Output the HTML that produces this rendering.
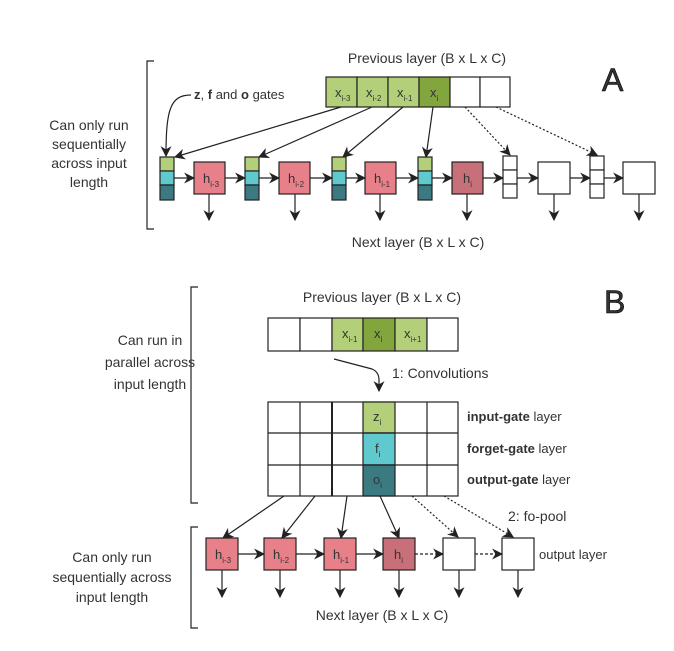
<!DOCTYPE html>
<html><head><meta charset="utf-8"><style>
html,body{margin:0;padding:0;background:#fff;}
svg{display:block;font-family:"Liberation Sans",sans-serif;}
text{fill:#333;}
</style></head><body>
<svg width="674" height="651" viewBox="0 0 674 651">
<defs>
<marker id="ah" viewBox="0 0 10 10" refX="9" refY="5" markerWidth="11" markerHeight="11" orient="auto-start-reverse" markerUnits="userSpaceOnUse"><path d="M0,0 L10,5 L0,10 L3,5 z" fill="#222"/></marker>
</defs>
<g stroke="#222" stroke-width="1.2" fill="none">
<path d="M154,61 H147 V229 H154"/>
<path d="M198,287 H191 V503 H198"/>
<path d="M198,527 H191 V628 H198"/>
</g>

<g>
<text x="427" y="63" font-size="14" text-anchor="middle">Previous layer (B x L x C)</text>
<text x="602" y="91" font-size="32" fill="#000" stroke="#000" stroke-width="0.6">A</text>
<g stroke="#222" stroke-width="1.2">
<rect x="326" y="77" width="31" height="30" fill="#b3cf7a"/>
<rect x="357" y="77" width="31" height="30" fill="#b3cf7a"/>
<rect x="388" y="77" width="31" height="30" fill="#b3cf7a"/>
<rect x="419" y="77" width="31" height="30" fill="#82a63d"/>
<rect x="450" y="77" width="30" height="30" fill="#fff"/>
<rect x="480" y="77" width="30" height="30" fill="#fff"/>
</g>
<g font-size="13">
<text x="335" y="97">x<tspan font-size="8" dy="4">i-3</tspan></text>
<text x="366" y="97">x<tspan font-size="8" dy="4">i-2</tspan></text>
<text x="397" y="97">x<tspan font-size="8" dy="4">i-1</tspan></text>
<text x="430" y="97">x<tspan font-size="8" dy="4">i</tspan></text>
</g>
<text x="194" y="99" font-size="13"><tspan font-weight="bold">z</tspan>, <tspan font-weight="bold">f</tspan> and <tspan font-weight="bold">o</tspan> gates</text>
<path d="M191,95 C170,95 166,110 166,156" stroke="#222" stroke-width="1.2" fill="none" marker-end="url(#ah)"/>
<g stroke="#222" stroke-width="1.2">
<g><rect x="160" y="157" width="14" height="14" fill="#b3cf7a"/><rect x="160" y="171" width="14" height="14" fill="#5fc9cd"/><rect x="160" y="185" width="14" height="15" fill="#3b7a80"/></g>
<g><rect x="245" y="157" width="14" height="14" fill="#b3cf7a"/><rect x="245" y="171" width="14" height="14" fill="#5fc9cd"/><rect x="245" y="185" width="14" height="15" fill="#3b7a80"/></g>
<g><rect x="332" y="157" width="14" height="14" fill="#b3cf7a"/><rect x="332" y="171" width="14" height="14" fill="#5fc9cd"/><rect x="332" y="185" width="14" height="15" fill="#3b7a80"/></g>
<g><rect x="418" y="157" width="14" height="14" fill="#b3cf7a"/><rect x="418" y="171" width="14" height="14" fill="#5fc9cd"/><rect x="418" y="185" width="14" height="15" fill="#3b7a80"/></g>
<g fill="#fff"><rect x="503" y="156" width="14" height="14"/><rect x="503" y="170" width="14" height="14"/><rect x="503" y="184" width="14" height="14"/></g>
<g fill="#fff"><rect x="590" y="156" width="14" height="14"/><rect x="590" y="170" width="14" height="14"/><rect x="590" y="184" width="14" height="14"/></g>
<rect x="194" y="162" width="31" height="32" fill="#e8808a"/>
<rect x="279" y="162" width="31" height="32" fill="#e8808a"/>
<rect x="365" y="162" width="31" height="32" fill="#e8808a"/>
<rect x="452" y="162" width="31" height="32" fill="#c8707a"/>
<rect x="538" y="162" width="32" height="32" fill="#fff"/>
<rect x="623" y="162" width="32" height="32" fill="#fff"/>
</g>
<g font-size="13">
<text x="203" y="183">h<tspan font-size="8" dy="4">i-3</tspan></text>
<text x="288" y="183">h<tspan font-size="8" dy="4">i-2</tspan></text>
<text x="374" y="183">h<tspan font-size="8" dy="4">i-1</tspan></text>
<text x="463" y="183">h<tspan font-size="8" dy="4">i</tspan></text>
</g>
<g stroke="#222" stroke-width="1.2" fill="none" marker-end="url(#ah)">
<line x1="341" y1="107" x2="175" y2="157"/>
<line x1="372" y1="107" x2="259" y2="157"/>
<line x1="403" y1="107" x2="343" y2="157"/>
<line x1="433" y1="107" x2="426" y2="157"/>
<line x1="465" y1="107" x2="510" y2="155" stroke-dasharray="2,2"/>
<line x1="496" y1="107" x2="597" y2="155" stroke-dasharray="2,2"/>
<line x1="174" y1="178" x2="194" y2="178"/>
<line x1="225" y1="178" x2="245" y2="178"/>
<line x1="259" y1="178" x2="279" y2="178"/>
<line x1="310" y1="178" x2="332" y2="178"/>
<line x1="346" y1="178" x2="365" y2="178"/>
<line x1="396" y1="178" x2="418" y2="178"/>
<line x1="432" y1="178" x2="452" y2="178"/>
<line x1="483" y1="178" x2="503" y2="178"/>
<line x1="517" y1="178" x2="538" y2="178"/>
<line x1="570" y1="178" x2="590" y2="178"/>
<line x1="604" y1="178" x2="623" y2="178"/>
<line x1="209" y1="194" x2="209" y2="220"/>
<line x1="295" y1="194" x2="295" y2="220"/>
<line x1="380" y1="194" x2="380" y2="220"/>
<line x1="467" y1="194" x2="467" y2="220"/>
<line x1="554" y1="194" x2="554" y2="220"/>
<line x1="639" y1="194" x2="639" y2="220"/>
</g>
<text x="418" y="247" font-size="14" text-anchor="middle">Next layer (B x L x C)</text>
<g font-size="14" text-anchor="middle">
<text x="89" y="130">Can only run</text><text x="89" y="149">sequentially</text><text x="89" y="168">across input</text><text x="89" y="187">length</text>
</g>
</g>

<g>
<text x="382" y="302" font-size="14" text-anchor="middle">Previous layer (B x L x C)</text>
<text x="604" y="313" font-size="32" fill="#000" stroke="#000" stroke-width="0.6">B</text>
<g stroke="#222" stroke-width="1.2">
<rect x="268" y="318" width="32" height="33" fill="#fff"/>
<rect x="300" y="318" width="32" height="33" fill="#fff"/>
<rect x="332" y="318" width="31" height="33" fill="#b3cf7a"/>
<rect x="363" y="318" width="32" height="33" fill="#82a63d"/>
<rect x="395" y="318" width="32" height="33" fill="#b3cf7a"/>
<rect x="427" y="318" width="31" height="33" fill="#fff"/>
</g>
<g font-size="13">
<text x="342" y="338">x<tspan font-size="8" dy="4">i-1</tspan></text>
<text x="374" y="338">x<tspan font-size="8" dy="4">i</tspan></text>
<text x="404" y="338">x<tspan font-size="8" dy="4">i+1</tspan></text>
</g>
<path d="M334,359 L372,369 Q379,372 379,380 L379,391" stroke="#222" stroke-width="1.2" fill="none" marker-end="url(#ah)"/>
<text x="392" y="378" font-size="14">1: Convolutions</text>
<g stroke="#222" stroke-width="1.2" fill="#fff">
<rect x="268" y="402" width="190" height="94"/>
<rect x="363" y="402" width="32" height="31" fill="#b3cf7a"/>
<rect x="363" y="433" width="32" height="32" fill="#5fc9cd"/>
<rect x="363" y="465" width="32" height="31" fill="#3b7a80"/>
<line x1="300" y1="402" x2="300" y2="496"/><line x1="332" y1="402" x2="332" y2="496" stroke-width="2"/>
<line x1="427" y1="402" x2="427" y2="496"/>
<line x1="268" y1="433" x2="458" y2="433"/><line x1="268" y1="465" x2="458" y2="465"/>
</g>
<g font-size="13">
<text x="373" y="421">z<tspan font-size="8" dy="4">i</tspan></text>
<text x="375" y="453">f<tspan font-size="8" dy="4">i</tspan></text>
<text x="373" y="484">o<tspan font-size="8" dy="4">i</tspan></text>
</g>
<g font-size="13">
<text x="467" y="421"><tspan font-weight="bold">input-gate</tspan> layer</text>
<text x="467" y="453"><tspan font-weight="bold">forget-gate</tspan>  layer</text>
<text x="467" y="484"><tspan font-weight="bold">output-gate</tspan> layer</text>
</g>
<text x="508" y="521" font-size="14">2: fo-pool</text>
<g stroke="#222" stroke-width="1.2">
<rect x="206" y="538" width="32" height="32" fill="#e8808a"/>
<rect x="264" y="538" width="32" height="32" fill="#e8808a"/>
<rect x="324" y="538" width="32" height="32" fill="#e8808a"/>
<rect x="383" y="538" width="32" height="32" fill="#c8707a"/>
<rect x="443" y="538" width="32" height="32" fill="#fff"/>
<rect x="502" y="538" width="32" height="32" fill="#fff"/>
</g>
<g font-size="13">
<text x="215" y="559">h<tspan font-size="8" dy="4">i-3</tspan></text>
<text x="273" y="559">h<tspan font-size="8" dy="4">i-2</tspan></text>
<text x="333" y="559">h<tspan font-size="8" dy="4">i-1</tspan></text>
<text x="394" y="559">h<tspan font-size="8" dy="4">i</tspan></text>
</g>
<text x="539" y="559" font-size="13">output layer</text>
<g stroke="#222" stroke-width="1.2" fill="none" marker-end="url(#ah)">
<line x1="284" y1="496" x2="223" y2="538"/>
<line x1="315" y1="496" x2="282" y2="538"/>
<line x1="347" y1="496" x2="341" y2="538"/>
<line x1="380" y1="496" x2="399" y2="538"/>
<line x1="412" y1="496" x2="458" y2="537" stroke-dasharray="2,2"/>
<line x1="444" y1="496" x2="513" y2="537" stroke-dasharray="2,2"/>
<line x1="238" y1="554" x2="264" y2="554"/>
<line x1="296" y1="554" x2="324" y2="554"/>
<line x1="356" y1="554" x2="383" y2="554"/>
<line x1="415" y1="554" x2="443" y2="554" stroke-dasharray="3,2"/>
<line x1="475" y1="554" x2="502" y2="554" stroke-dasharray="3,2"/>
<line x1="222" y1="570" x2="222" y2="597"/>
<line x1="280" y1="570" x2="280" y2="597"/>
<line x1="340" y1="570" x2="340" y2="597"/>
<line x1="399" y1="570" x2="399" y2="597"/>
<line x1="459" y1="570" x2="459" y2="597"/>
<line x1="518" y1="570" x2="518" y2="597"/>
</g>
<text x="382" y="620" font-size="14" text-anchor="middle">Next layer (B x L x C)</text>
<g font-size="14" text-anchor="middle">
<text x="150" y="345">Can run in</text><text x="150" y="367">parallel across</text><text x="150" y="389">input length</text>
</g>
<g font-size="14" text-anchor="middle">
<text x="112" y="562">Can only run</text><text x="112" y="582">sequentially across</text><text x="112" y="602">input length</text>
</g>
</g>
</svg>
</body></html>
